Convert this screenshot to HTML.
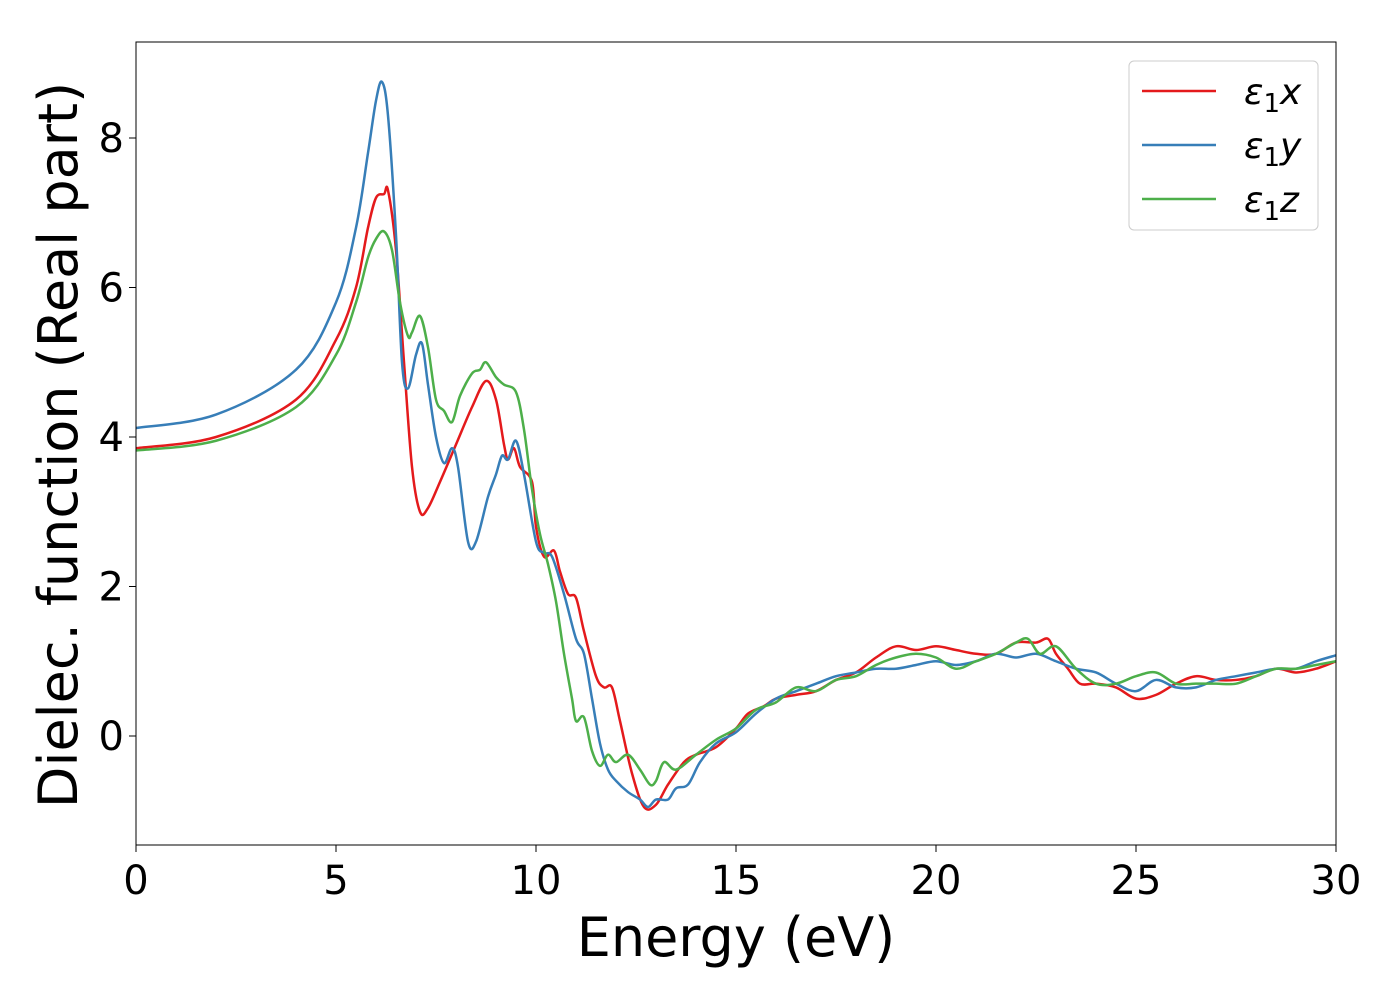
<!DOCTYPE html>
<html><head><meta charset="utf-8"><style>
body{margin:0;background:#fff}
svg{font-family:"DejaVu Sans","Liberation Sans",sans-serif}
</style></head><body>
<svg id="chart" width="1400" height="1000" xmlns="http://www.w3.org/2000/svg">
<rect width="1400" height="1000" fill="#fff"/>
<g id="plot"></g>
</svg>
<script>
const xTicks=[0,5,10,15,20,25,30];
const yTicks=[0,2,4,6,8];
const seriesNames=["ε1x","ε1y","ε1z"];
const redE=[0,2,4,5,5.5,5.8,6.0,6.2,6.3,6.5,6.7,6.9,7.1,7.3,7.6,8.0,8.4,8.75,9.0,9.2,9.3,9.45,9.6,9.9,10.0,10.2,10.45,10.6,10.8,11.0,11.2,11.5,11.7,11.9,12.1,12.4,12.7,13.0,13.3,13.7,14.0,14.5,15,15.3,15.7,16,16.5,17,17.5,18,18.5,19,19.5,20,20.5,21,21.5,22,22.5,22.8,23.0,23.3,23.6,24,24.5,25,25.5,26,26.5,27,27.5,28,28.5,29,29.5,30];
const redV=[3.85,4.0,4.5,5.3,6.0,6.8,7.2,7.25,7.3,6.5,5.0,3.6,3.0,3.05,3.4,3.9,4.4,4.75,4.5,3.9,3.7,3.85,3.6,3.4,2.8,2.4,2.48,2.2,1.9,1.85,1.4,0.8,0.65,0.65,0.2,-0.5,-0.95,-0.92,-0.65,-0.35,-0.25,-0.15,0.1,0.3,0.4,0.5,0.55,0.6,0.75,0.85,1.05,1.2,1.15,1.2,1.15,1.1,1.1,1.25,1.25,1.3,1.1,0.9,0.7,0.7,0.65,0.5,0.55,0.7,0.8,0.75,0.75,0.8,0.9,0.85,0.9,1.0];
const blueE=[0,2,4,5,5.5,5.8,6.0,6.15,6.3,6.5,6.65,6.8,7.0,7.15,7.3,7.5,7.7,7.9,8.05,8.3,8.5,8.8,9.0,9.15,9.3,9.5,9.7,10.0,10.2,10.4,10.7,11.0,11.2,11.4,11.6,11.8,12.0,12.3,12.6,12.8,13.0,13.3,13.5,13.8,14.1,14.5,15,15.5,16,16.5,17,17.5,18,18.5,19,19.5,20,20.5,21,21.5,22,22.5,23,23.5,24,24.5,25,25.5,26,26.5,27,27.5,28,28.5,29,29.5,30];
const blueV=[4.12,4.3,4.9,5.8,6.8,7.8,8.5,8.75,8.3,6.7,5.0,4.65,5.1,5.25,4.7,4.0,3.65,3.85,3.6,2.6,2.6,3.2,3.5,3.75,3.7,3.95,3.5,2.6,2.45,2.4,1.9,1.3,1.1,0.5,-0.1,-0.45,-0.6,-0.75,-0.85,-0.95,-0.85,-0.85,-0.7,-0.65,-0.35,-0.1,0.05,0.3,0.5,0.6,0.7,0.8,0.85,0.9,0.9,0.95,1.0,0.95,1.0,1.1,1.05,1.1,1.0,0.9,0.85,0.7,0.6,0.75,0.65,0.65,0.75,0.8,0.85,0.9,0.9,1.0,1.08];
const greenE=[0,2,4,5,5.5,5.8,6.0,6.2,6.4,6.6,6.8,6.9,7.1,7.3,7.5,7.7,7.9,8.1,8.4,8.6,8.75,9.0,9.2,9.5,9.7,9.9,10.1,10.3,10.5,10.7,10.9,11.0,11.2,11.4,11.6,11.8,12.0,12.3,12.6,12.85,13.0,13.2,13.5,14,14.5,15,15.5,16,16.5,17,17.5,18,18.5,19,19.5,20,20.5,21,21.5,22,22.3,22.6,23,23.5,24,24.5,25,25.5,26,26.5,27,27.5,28,28.5,29,29.5,30];
const greenV=[3.82,3.95,4.4,5.1,5.8,6.4,6.65,6.75,6.5,5.8,5.35,5.4,5.62,5.2,4.5,4.35,4.2,4.55,4.85,4.9,5.0,4.8,4.7,4.6,4.1,3.3,2.7,2.3,1.8,1.1,0.5,0.2,0.25,-0.2,-0.4,-0.25,-0.35,-0.25,-0.45,-0.65,-0.6,-0.35,-0.45,-0.25,-0.05,0.1,0.35,0.45,0.65,0.6,0.75,0.8,0.95,1.05,1.1,1.05,0.9,1.0,1.1,1.25,1.3,1.1,1.2,0.9,0.7,0.7,0.8,0.85,0.7,0.7,0.7,0.7,0.8,0.9,0.9,0.95,1.0];
const colors=["#e41a1c","#377eb8","#4daf4a"];
const L=136,R=1336,T=42,B=845;
const xScale=e=>L+(e-0)/30*(R-L);
const yScale=v=>736-v*74.75;
const NS="http://www.w3.org/2000/svg";
const g=document.getElementById('plot');
function mk(tag,attrs,parent){const el=document.createElementNS(NS,tag);for(const k in attrs)el.setAttribute(k,attrs[k]);(parent||g).appendChild(el);return el;}
function path(E,V){let pts=E.map((e,i)=>[xScale(e),yScale(V[i])]);let d="M"+pts[0];for(let i=0;i<pts.length-1;i++){const p0=pts[Math.max(0,i-1)],p1=pts[i],p2=pts[i+1],p3=pts[Math.min(pts.length-1,i+2)];const c1=[p1[0]+(p2[0]-p0[0])/6,p1[1]+(p2[1]-p0[1])/6],c2=[p2[0]-(p3[0]-p1[0])/6,p2[1]-(p3[1]-p1[1])/6];d+=`C${c1} ${c2} ${p2}`;}return d;}
const cp=mk('clipPath',{id:'clip'});mk('rect',{x:L,y:T,width:R-L,height:B-T},cp);
const series=[[redE,redV],[blueE,blueV],[greenE,greenV]];
series.forEach((s,i)=>{const p=mk('path',{d:path(s[0],s[1]),fill:'none',stroke:colors[i],'stroke-width':2.5,'clip-path':'url(#clip)'});

});
const fr=mk('rect',{x:L,y:T,width:R-L,height:B-T,fill:'none',stroke:'#000','stroke-width':1});


xTicks.forEach(t=>{const x=xScale(t);mk('line',{x1:x,x2:x,y1:B,y2:B+7,stroke:'#000','stroke-width':1});const tx=mk('text',{x:x,y:B+49,'font-size':40,'text-anchor':'middle'});tx.textContent=t;

});
yTicks.forEach(t=>{const y=yScale(t);mk('line',{x1:L-7,x2:L,y1:y,y2:y,stroke:'#000','stroke-width':1});const tx=mk('text',{x:L-12,y:y+14,'font-size':40,'text-anchor':'end'});tx.textContent=t;

});
const xl=mk('text',{x:736,y:956,'font-size':54,'text-anchor':'middle'});xl.textContent="Energy (eV)";


const yl=mk('text',{x:0,y:0,'font-size':54,'text-anchor':'middle',transform:'translate(77,445) rotate(-90)'});yl.textContent="Dielec. function (Real part)";


const lg=mk('g',{});


mk('rect',{x:1129,y:61,width:189,height:169,rx:5,fill:'#fff',stroke:'#ccc','stroke-width':1},lg);
seriesNames.forEach((n,i)=>{const y=91+i*54;mk('line',{x1:1142,x2:1216,y1:y,y2:y,stroke:colors[i],'stroke-width':2.5},lg);
const t=mk('text',{x:1244,y:y+13,'font-size':36,'font-style':'italic'},lg);
t.innerHTML='ε<tspan font-style="normal" font-size="26" dy="8">1</tspan><tspan dy="-8">'+n[2]+'</tspan>';

});
</script>
</body></html>
